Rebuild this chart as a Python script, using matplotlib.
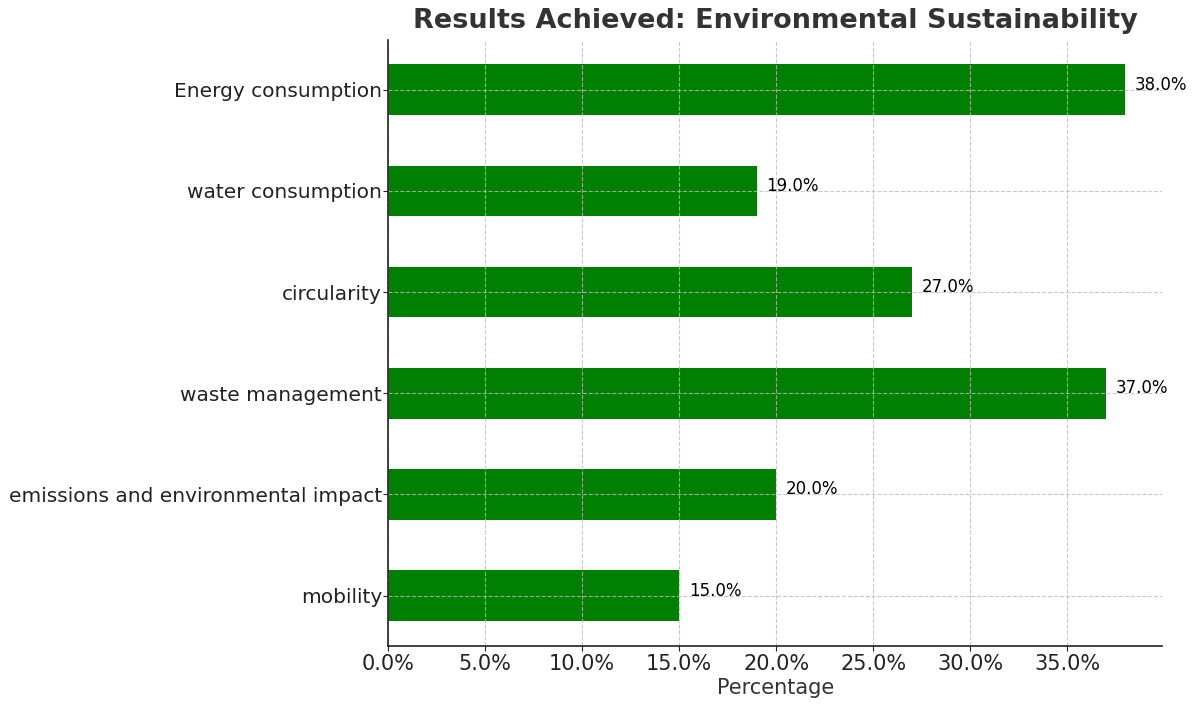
import matplotlib.pyplot as plt
from matplotlib.ticker import FuncFormatter

categories = ["mobility", "emissions and environmental impact", "waste management",
              "circularity", "water consumption", "Energy consumption"]
values = [15.0, 20.0, 37.0, 27.0, 19.0, 38.0]

fig, ax = plt.subplots(figsize=(12, 7.04), dpi=100)
bars = ax.barh(categories, values, height=0.5, color='green')

# percentage labels just past the end of each bar, sitting a bit high
for b, v in zip(bars, values):
    ax.text(v + 0.5, b.get_y() + b.get_height() / 2 + 0.05, f"{v:.1f}%",
            va='center', ha='left', fontsize=12, color='black')

ax.set_xlim(0, max(values) * 1.05)
ax.set_ylim(-0.5, 5.49)
ax.xaxis.set_major_formatter(FuncFormatter(lambda x, _: f"{x:.1f}%"))
ax.set_xlabel("Percentage", fontsize=15, color='#333333', labelpad=3)
ax.set_title("Results Achieved: Environmental Sustainability",
             fontsize=19.5, fontweight='bold', color='#333333', pad=9)
ax.tick_params(axis='y', labelsize=14.5, colors='#222222', pad=1)
ax.tick_params(axis='x', labelsize=15, colors='#222222', pad=2)
ax.grid(True, linestyle='--', color='#bbbbbb', alpha=0.8)
ax.set_axisbelow(False)
ax.spines['top'].set_visible(False)
ax.spines['right'].set_visible(False)
for side in ('left', 'bottom'):
    ax.spines[side].set_zorder(5)
    ax.spines[side].set_linewidth(1.2)
    ax.spines[side].set_color('#222222')

plt.subplots_adjust(left=0.3235, right=0.9685, top=0.943, bottom=0.082)
plt.savefig("out.png")
